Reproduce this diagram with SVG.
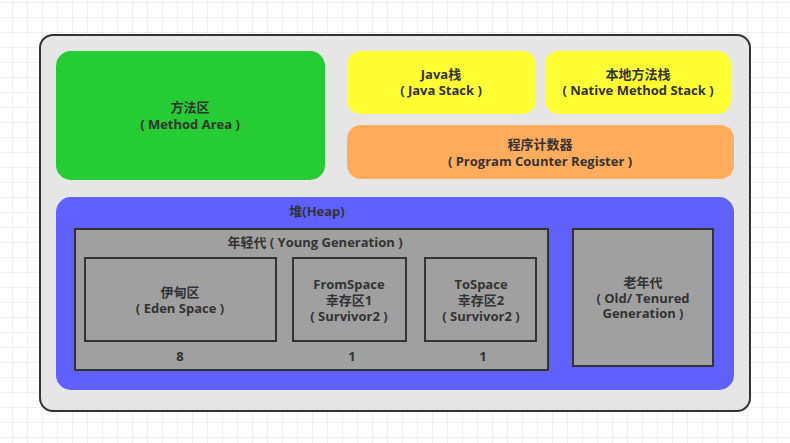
<svg xmlns="http://www.w3.org/2000/svg" width="790" height="443" viewBox="0 0 790 443">
<style>
text{font-family:"Open Sans","Noto Sans CJK SC",sans-serif;font-weight:bold;font-size:13px;fill:#333;text-anchor:middle}
.box{fill:#a0a0a0;stroke:#333;stroke-width:2}
</style>
<defs>
<pattern id="grid" x="12" y="2" width="15" height="15" patternUnits="userSpaceOnUse">
<path d="M0 0H15M0 0V15" fill="none" stroke="#e4e4e4" stroke-width="1"/>
</pattern>
</defs>
<rect width="790" height="443" fill="#fff"/>
<rect width="790" height="443" fill="url(#grid)"/>
<g id="container">
<rect x="40" y="35" width="710" height="376" rx="13" fill="#e6e6e6" stroke="#333" stroke-width="2"/>
</g>
<g id="method-area">
<rect x="56" y="51" width="269" height="129" rx="15" fill="#26cc33"/>
<text x="190" y="112">方法区</text>
<text x="190" y="129">( Method Area )</text>
</g>
<g id="java-stack">
<rect x="347" y="51" width="189" height="63" rx="14" fill="#ffff33"/>
<text x="441" y="79">Java栈</text>
<text x="441" y="95">( Java Stack )</text>
</g>
<g id="native-stack">
<rect x="545" y="51" width="186" height="63" rx="14" fill="#ffff33"/>
<text x="638" y="79">本地方法栈</text>
<text x="638" y="95">( Native Method Stack )</text>
</g>
<g id="pc-register">
<rect x="347" y="125" width="387" height="54" rx="14" fill="#ffad5c"/>
<text x="540" y="149">程序计数器</text>
<text x="540" y="166">( Program Counter Register )</text>
</g>
<g id="heap">
<rect x="56" y="197" width="678" height="193" rx="15" fill="#6060ff"/>
<text x="317" y="216">堆(Heap)</text>
</g>
<g id="young-gen">
<rect class="box" x="75" y="229" width="473" height="141"/>
<text x="315" y="247">年轻代 ( Young Generation )</text>
<text x="180" y="361">8</text>
<text x="352" y="361">1</text>
<text x="483" y="361">1</text>
</g>
<g id="eden">
<rect class="box" x="85" y="258" width="191" height="83"/>
<text x="180" y="297">伊甸区</text>
<text x="180" y="313">( Eden Space )</text>
</g>
<g id="from-space">
<rect class="box" x="293" y="258" width="113" height="83"/>
<text x="349" y="289">FromSpace</text>
<text x="349" y="305">幸存区1</text>
<text x="349" y="321">( Survivor2 )</text>
</g>
<g id="to-space">
<rect class="box" x="425" y="258" width="111" height="83"/>
<text x="481" y="289">ToSpace</text>
<text x="481" y="305">幸存区2</text>
<text x="481" y="321">( Survivor2 )</text>
</g>
<g id="old-gen">
<rect class="box" x="573" y="229" width="140" height="137"/>
<text x="643" y="287">老年代</text>
<text x="643" y="303">( Old/ Tenured</text>
<text x="643" y="318">Generation )</text>
</g>
<g id="connectors"></g>
</svg>
